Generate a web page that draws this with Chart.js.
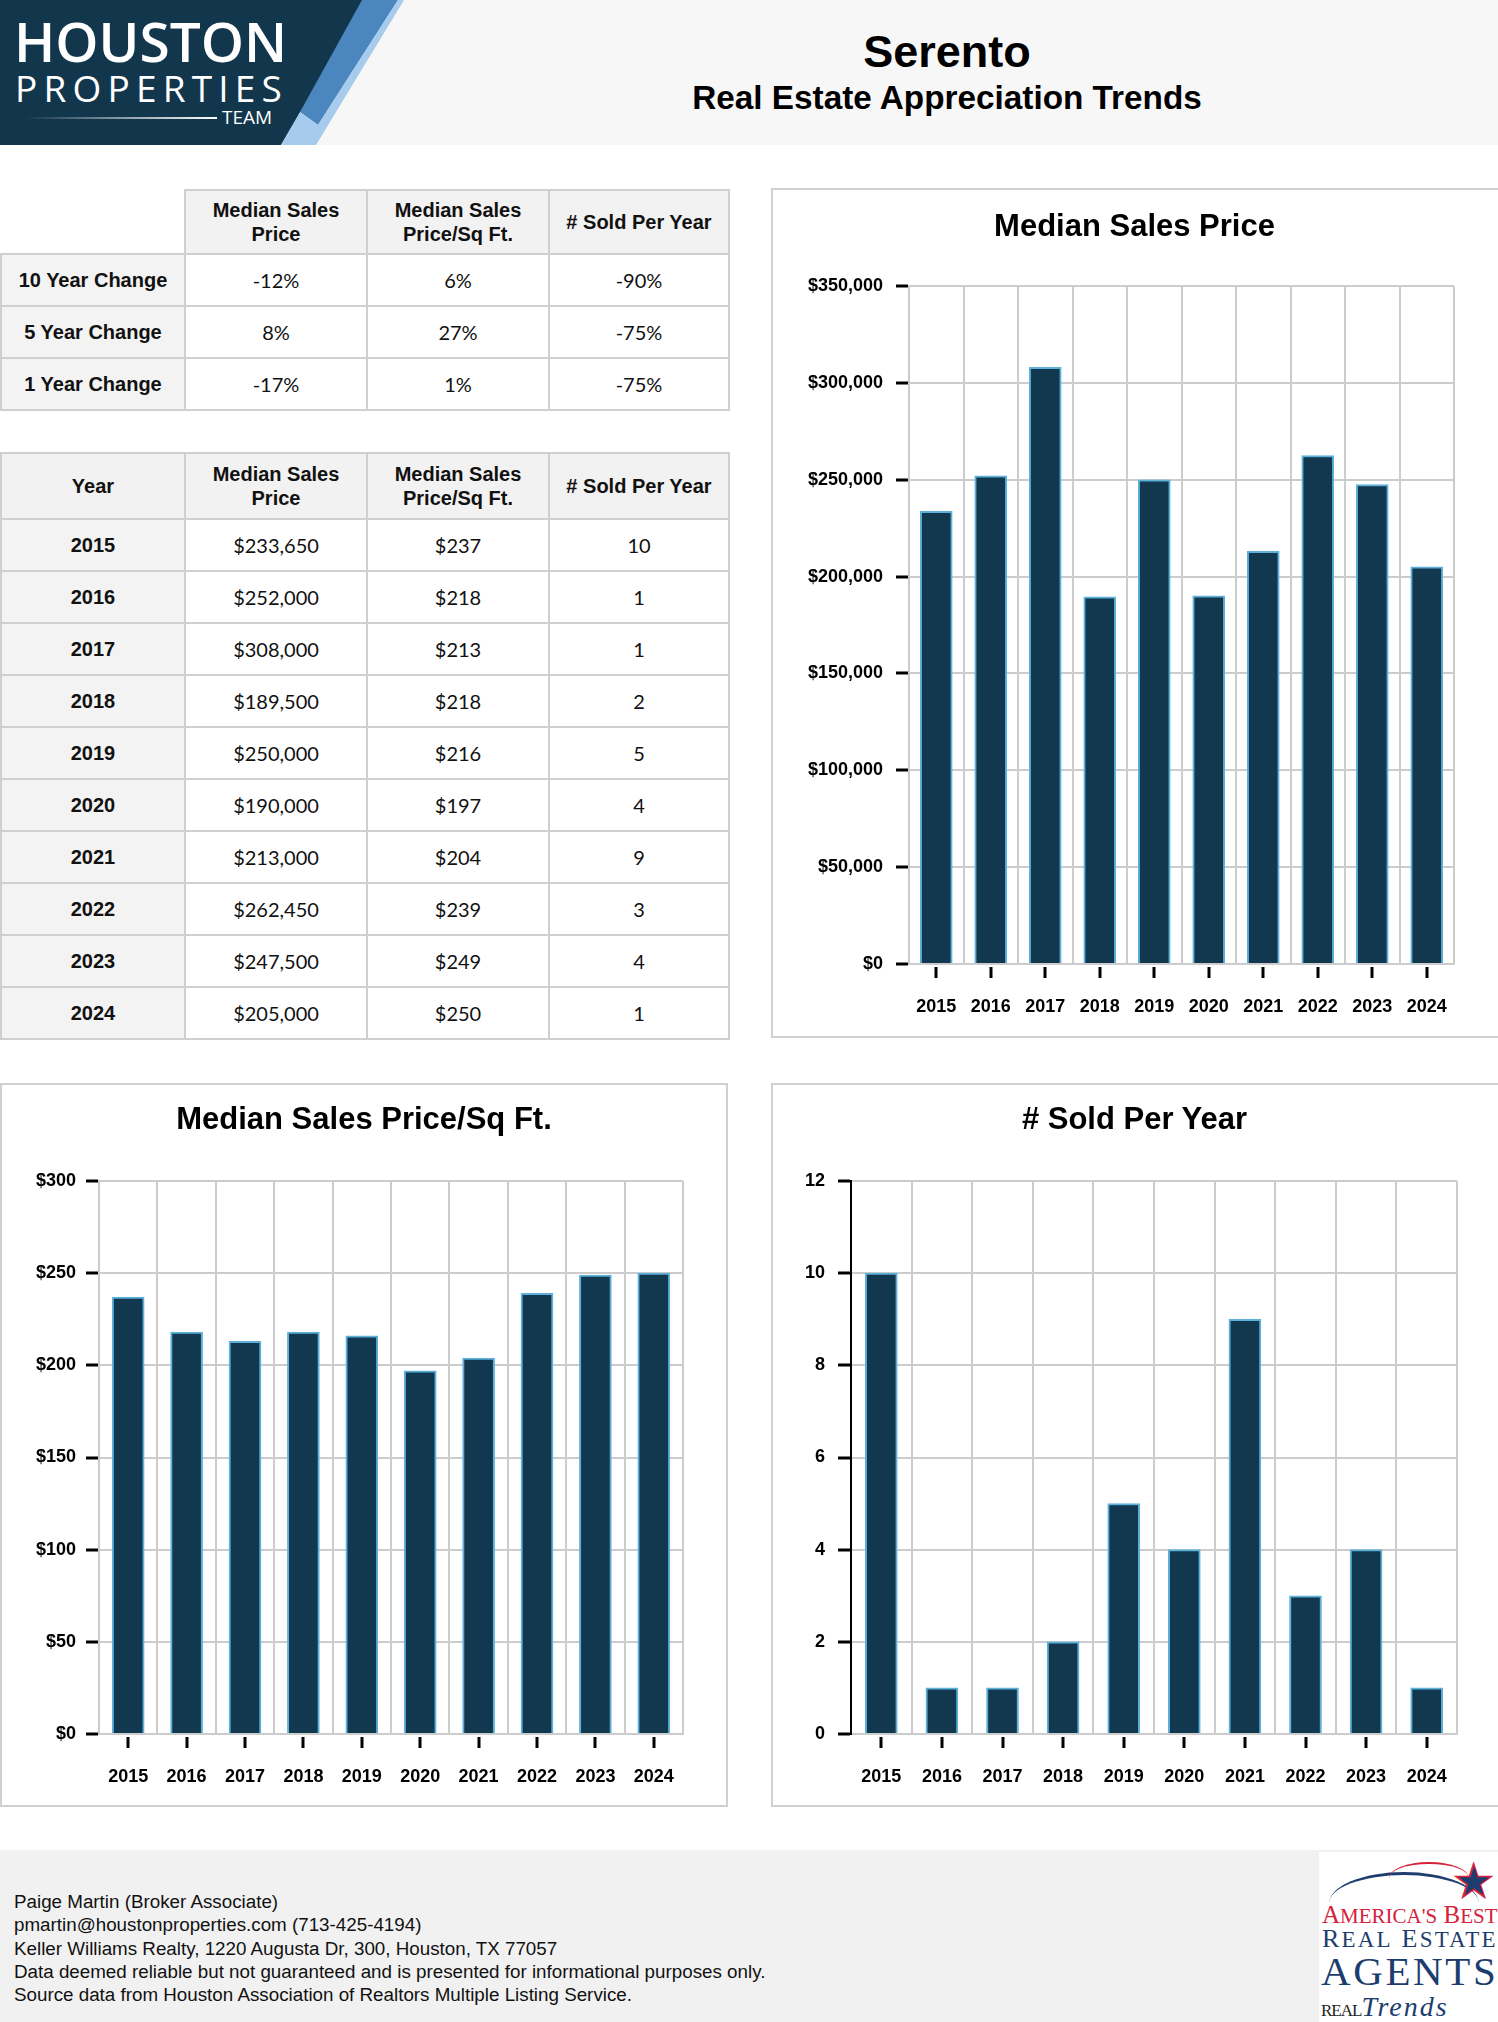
<!DOCTYPE html>
<html>
<head>
<meta charset="utf-8">
<script src="https://cdn.jsdelivr.net/npm/chart.js@4.4.1/dist/chart.umd.min.js"></script>
<style>
  body { margin: 0; width: 1498px; height: 2022px; overflow: hidden; background: #fff; position: relative; font-family: "Liberation Sans", Arial, sans-serif; }
  .abs { position: absolute; }
  #header { left: 0; top: 0; width: 1498px; height: 145px; background: #f7f7f7; }
  #logo { left: 0; top: 0; width: 420px; height: 145px; }
  .lt { position: absolute; color: #fff; font-family: "Open Sans", sans-serif; line-height: 1; white-space: nowrap; }
  #title1 { left: 0; width: 1894px; top: 26px; text-align: center; font-weight: bold; font-size: 45px; line-height: 52px; }
  #title2 { left: 0; width: 1894px; top: 79px; text-align: center; font-weight: bold; font-size: 33.3px; line-height: 38px; }
  table.tbl { position: absolute; border-collapse: collapse; table-layout: fixed; }
  table.tbl td, table.tbl th { border: 2px solid #cfcfcf; text-align: center; padding: 0; color: #111; }
  table.tbl th { font-weight: bold; font-size: 20px; line-height: 24px; background: #f2f2f2; }
  table.tbl td { font-family: Lato, sans-serif; font-size: 20px; background: #fff; }
  table.tbl td.lab { font-family: "Liberation Sans", Arial, sans-serif; font-weight: bold; background: #f3f3f3; }
  table.tbl th.blank { background: #fff; border-top: none; border-left: none; }
  .box { position: absolute; border: 2px solid #d0d0d0; box-sizing: border-box; }
  .ctitle { position: absolute; text-align: center; font-weight: bold; font-size: 31px; line-height: 37px; color: #000; white-space: nowrap; }
  canvas { position: absolute; }
  #footer { left: 0; top: 1850px; width: 1498px; height: 172px; background: #f1f1f1; }
  #footText { left: 14px; top: 1890px; font-size: 18.8px; line-height: 23.3px; color: #111; }
  #award { left: 1319px; top: 1852px; width: 179px; height: 170px; background: #fff; font-family: "Liberation Serif", "DejaVu Serif", serif; }
  .aw { position: absolute; white-space: nowrap; line-height: 1; }
</style>
</head>
<body>
<div id="header" class="abs"></div>
<div id="logo" class="abs">
  <div class="abs" style="left:0;top:0;width:420px;height:145px;background:#12364c;clip-path:polygon(0 0,366px 0,281px 145px,0 145px);"></div>
  <div class="abs" style="left:0;top:0;width:420px;height:145px;background:#4b86bf;clip-path:polygon(362px 0,398px 0,318px 125px,300px 112px);"></div>
  <div class="abs" style="left:0;top:0;width:420px;height:145px;background:#a6cbec;clip-path:polygon(398px 0,404px 0,316px 145px,281px 145px,300px 112px,318px 125px);"></div>
  <div class="lt" style="left:14px;top:13px;font-size:55px;font-weight:600;">HOUSTON</div>
  <div class="lt" style="left:15px;top:69px;font-size:37px;letter-spacing:6.2px;">PROPERTIES</div>
  <div class="abs" style="left:25px;top:117px;width:192px;height:2px;background:linear-gradient(to right, rgba(255,255,255,0), #fff);"></div>
  <div class="lt" style="left:222px;top:108px;font-size:19px;">TEAM</div>
</div>
<div id="title1" class="abs">Serento</div>
<div id="title2" class="abs">Real Estate Appreciation Trends</div>

<table id="changeTable" class="tbl" style="left:0;top:189px;width:728px;"></table>
<table id="yearTable" class="tbl" style="left:0;top:452px;width:728px;"></table>

<div class="box" style="left:771px;top:188px;width:740px;height:850px;"></div>
<canvas id="priceChart" width="727" height="850" style="left:771px;top:188px;"></canvas>
<div class="ctitle" style="left:771px;width:727px;top:207px;">Median Sales Price</div>

<div class="box" style="left:0;top:1083px;width:728px;height:724px;"></div>
<canvas id="sqftChart" width="728" height="724" style="left:0;top:1083px;"></canvas>
<div class="ctitle" style="left:0;width:728px;top:1100px;">Median Sales Price/Sq Ft.</div>

<div class="box" style="left:771px;top:1083px;width:740px;height:724px;"></div>
<canvas id="soldChart" width="727" height="724" style="left:771px;top:1083px;"></canvas>
<div class="ctitle" style="left:771px;width:727px;top:1100px;"># Sold Per Year</div>

<div id="footer" class="abs"></div>
<div id="footText" class="abs">
  Paige Martin (Broker Associate)<br>
  pmartin@houstonproperties.com (713-425-4194)<br>
  Keller Williams Realty, 1220 Augusta Dr, 300, Houston, TX 77057<br>
  Data deemed reliable but not guaranteed and is presented for informational purposes only.<br>
  Source data from Houston Association of Realtors Multiple Listing Service.
</div>
<div id="award" class="abs">
  <div class="abs" style="left:10px;top:20px;width:150px;height:60px;border-top:3px solid #1d3d6e;border-radius:50% 50% 0 0;"></div>
  <div class="abs" style="left:70px;top:10px;width:80px;height:30px;border-top:2px solid #d6213a;border-radius:50% 50% 0 0;"></div>
  <div class="aw" style="left:134px;top:6px;font-size:46px;color:#1d3d6e;-webkit-text-stroke:1.5px #d6213a;font-family:'DejaVu Sans',sans-serif;">★</div>
  <div class="aw" style="left:3px;top:50px;font-size:25px;color:#d6213a;letter-spacing:0px;">A<span style="font-size:21px">MERICA'S</span> B<span style="font-size:21px">EST</span></div>
  <div class="aw" style="left:3px;top:74px;font-size:26px;color:#1d3d6e;letter-spacing:2.2px;">R<span style="font-size:23px">EAL</span> E<span style="font-size:23px">STATE</span></div>
  <div class="aw" style="left:2px;top:99px;font-size:41px;color:#1d3d6e;letter-spacing:2.6px;">AGENTS</div>
  <div class="aw" style="left:2px;top:141px;font-size:17px;color:#222;letter-spacing:-1px;">REAL<span style="font-style:italic;font-size:28px;color:#1d3d6e;letter-spacing:2px;">Trends</span></div>
</div>

<script>
var years = ['2015', '2016', '2017', '2018', '2019', '2020', '2021', '2022', '2023', '2024'];
var medianPrice = [233650, 252000, 308000, 189500, 250000, 190000, 213000, 262450, 247500, 205000];
var pricePerSqft = [237, 218, 213, 218, 216, 197, 204, 239, 249, 250];
var soldPerYear = [10, 1, 1, 2, 5, 4, 9, 3, 4, 1];

var changeLabels = ['10 Year Change', '5 Year Change', '1 Year Change'];
var changePrice = ['-12%', '8%', '-17%'];
var changeSqft = ['6%', '27%', '1%'];
var changeSold = ['-90%', '-75%', '-75%'];

var colWidths = [184, 182, 182, 180];

function money(v) {
    return '$' + v.toLocaleString('en-US');
}

function colgroup() {
    return '<colgroup>' + colWidths.map(w => '<col style="width:' + w + 'px">').join('') + '</colgroup>';
}

// change table
var html = colgroup();
html += '<tr style="height:64px"><th class="blank"></th><th>Median Sales<br>Price</th><th>Median Sales<br>Price/Sq Ft.</th><th># Sold Per Year</th></tr>';
changeLabels.forEach((lab, i) => {
    html += '<tr style="height:52px"><td class="lab">' + lab + '</td><td>' + changePrice[i] + '</td><td>' + changeSqft[i] + '</td><td>' + changeSold[i] + '</td></tr>';
});
document.getElementById('changeTable').innerHTML = html;

// yearly table
html = colgroup();
html += '<tr style="height:66px"><th>Year</th><th>Median Sales<br>Price</th><th>Median Sales<br>Price/Sq Ft.</th><th># Sold Per Year</th></tr>';
years.forEach((y, i) => {
    html += '<tr style="height:52px"><td class="lab">' + y + '</td><td>' + money(medianPrice[i]) + '</td><td>' + money(pricePerSqft[i]) + '</td><td>' + soldPerYear[i] + '</td></tr>';
});
document.getElementById('yearTable').innerHTML = html;

// small black marks under each bar
var centerTicks = {
    id: 'centerTicks',
    afterDraw(chart) {
        var x = chart.scales.x;
        var ctx = chart.ctx;
        var b = chart.chartArea.bottom;
        ctx.save();
        ctx.strokeStyle = '#000';
        ctx.lineWidth = 3;
        x.ticks.forEach((t, i) => {
            var px = Math.round(x.getPixelForTick(i));
            ctx.beginPath();
            ctx.moveTo(px, b + 3);
            ctx.lineTo(px, b + 14);
            ctx.stroke();
        });
        ctx.restore();
    }
};

var boldFont = { family: '"Liberation Sans", Arial, sans-serif', size: 18, weight: 'bold' };

function makeChart(id, data, opts) {
    var canvas = document.getElementById(id);
    return new Chart(canvas, {
        type: 'bar',
        data: {
            labels: years,
            datasets: [{
                data: data,
                backgroundColor: '#11384e',
                borderColor: '#5cb0da',
                borderWidth: 2,
                borderSkipped: 'bottom',
                barThickness: 32
            }]
        },
        options: {
            responsive: false,
            animation: false,
            layout: { padding: { left: 0, right: opts.padRight, top: opts.padTop, bottom: 0 } },
            plugins: {
                legend: { display: false },
                tooltip: { enabled: false }
            },
            scales: {
                x: {
                    grid: { color: '#cccccc', lineWidth: 2, drawTicks: false, offset: true },
                    border: { color: '#cccccc', width: 2 },
                    ticks: { color: '#000', font: boldFont, padding: 32, maxRotation: 0 },
                    afterFit(scale) { scale.height = opts.xHeight; }
                },
                y: {
                    min: 0,
                    max: opts.max,
                    grid: { color: '#cccccc', lineWidth: 2, tickColor: '#000', tickLength: 13, tickWidth: 3 },
                    border: { color: opts.yBorder, width: 2 },
                    ticks: {
                        stepSize: opts.step,
                        color: '#000',
                        font: boldFont,
                        padding: opts.labelPad,
                        callback: opts.fmt
                    },
                    afterFit(scale) { scale.width = opts.yWidth; }
                }
            }
        },
        plugins: [centerTicks]
    });
}

makeChart('priceChart', medianPrice, {
    max: 350000, step: 50000, fmt: v => money(v),
    padRight: 44, padTop: 98, yWidth: 138, xHeight: 74, labelPad: 13, yBorder: '#cccccc'
});

makeChart('sqftChart', pricePerSqft, {
    max: 300, step: 50, fmt: v => money(v),
    padRight: 45, padTop: 98, yWidth: 99, xHeight: 73, labelPad: 10, yBorder: '#cccccc'
});

makeChart('soldChart', soldPerYear, {
    max: 12, step: 2, fmt: v => v,
    padRight: 41, padTop: 98, yWidth: 80, xHeight: 73, labelPad: 13, yBorder: '#000000'
});
</script>
</body>
</html>
